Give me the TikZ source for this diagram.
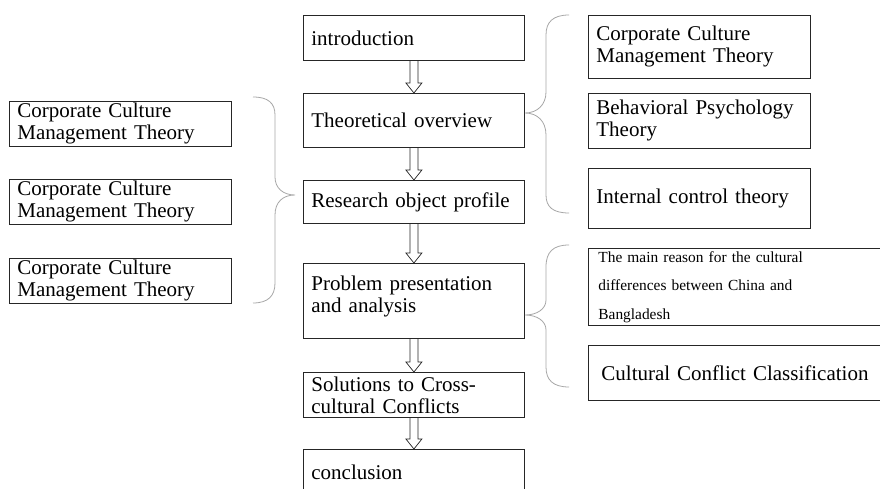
\documentclass[tikz,border=0pt]{standalone}
\usepackage{fontspec}
\setmainfont{Liberation Serif}
\usetikzlibrary{calc}

% hollow arrow between two stages
\newcommand{\flowarrow}[2]{%
  \draw[hollow] ($(#1.south)+(-4,0)$) -- ($(#2.north)+(-4,-10)$) -- ($(#2.north)+(-8,-10)$)
    -- (#2.north) -- ($(#2.north)+(8,-10)$) -- ($(#2.north)+(4,-10)$) -- ($(#1.south)+(4,0)$);}

\begin{document}
\begin{tikzpicture}[x=1pt, y=-1pt,
    box/.style={draw=black!85, line width=0.8pt, anchor=north west, align=left,
        inner xsep=8pt, inner ysep=0pt, text width=205pt,
        font=\fontsize{21}{22}\selectfont},
    sidebox/.style={box, text width=206pt},
    widebox/.style={box, text width=304pt},
    hollow/.style={draw=black!85, line width=0.7pt, line join=miter},
    brace/.style={draw=black!35, line width=0.8pt}]
    \clip (0,0) rectangle (880,489);

    % Main stages
    \node[box, minimum height=45pt] (intro) at (303,15) {introduction};
    \node[box, minimum height=54pt] (theory) at (303,93) {Theoretical overview};
    \node[box, minimum height=43pt] (profile) at (303,180) {Research object profile};
    \node[box, minimum height=75pt] (problem) at (303,263) {Problem presentation\\and analysis\\[-8pt]\mbox{}};
    \node[box, minimum height=45pt] (solution) at (303,372) {Solutions to Cross-\\cultural Conflicts};
    \node[box, minimum height=45pt] (concl) at (303,449) {conclusion};

    % Arrows
    \flowarrow{intro}{theory}
    \flowarrow{theory}{profile}
    \flowarrow{profile}{problem}
    \flowarrow{problem}{solution}
    \flowarrow{solution}{concl}

    % Left side
    \node[sidebox, minimum height=45pt] (left1) at (9,101) {Corporate Culture\\Management Theory};
    \node[sidebox, minimum height=45pt] (left2) at (9,179) {Corporate Culture\\Management Theory};
    \node[sidebox, minimum height=45pt] (left3) at (9,258) {Corporate Culture\\Management Theory};

    \draw[brace] (253,97) .. controls (268,97) and (275,103) .. (275,115) -- (275,177)
        .. controls (275,188) and (283,195) .. (295,195)
        .. controls (283,195) and (275,202) .. (275,215) -- (275,283)
        .. controls (275,296) and (268,303) .. (253,303);

    % Right side, theories
    \node[sidebox, minimum height=63pt] (ccmt) at (588,15) {Corporate Culture\\Management Theory};
    \node[sidebox, minimum height=55pt] (behav) at (588,93) {Behavioral Psychology\\Theory};
    \node[sidebox, minimum height=60pt] (internal) at (588,168) {Internal control theory};

    \draw[brace] (569,15) .. controls (553,15) and (546,22) .. (546,35) -- (546,92)
        .. controls (546,105) and (537,113) .. (525,113)
        .. controls (537,113) and (546,121) .. (546,135) -- (546,195)
        .. controls (546,207) and (553,213) .. (569,213);

    % Right side, problems
    \node[widebox, minimum height=77pt, inner xsep=10pt,
        font=\fontsize{15.4}{28.5}\selectfont] (reason) at (588,248)
        {The main reason for the cultural\\differences between China and\\Bangladesh};
    \node[widebox, minimum height=55pt, inner xsep=13pt, text width=296pt,
        font=\fontsize{21}{23}\selectfont] (classify) at (588,345) {Cultural Conflict Classification};

    \draw[brace] (569,245) .. controls (553,245) and (546,252) .. (546,267) -- (546,300)
        .. controls (546,309) and (537,315) .. (525,315)
        .. controls (537,315) and (546,321) .. (546,330) -- (546,367)
        .. controls (546,380) and (553,387) .. (569,387);
\end{tikzpicture}
\end{document}
